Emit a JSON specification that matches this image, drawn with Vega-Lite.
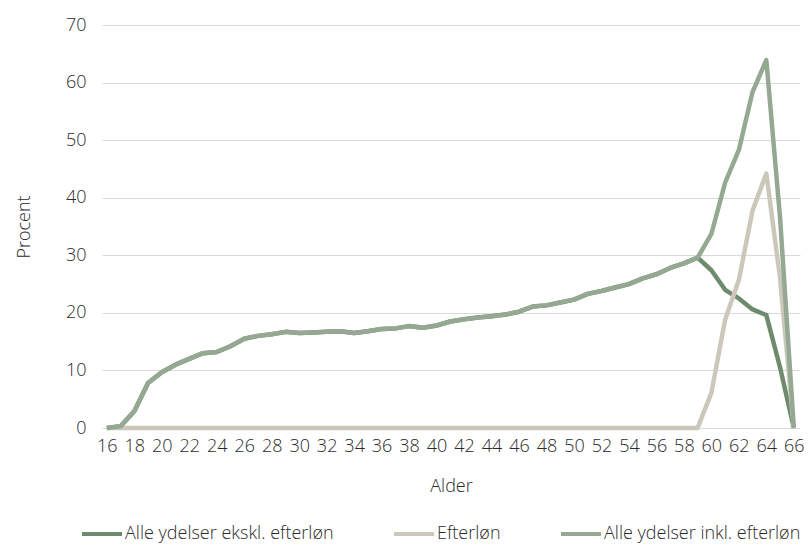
{
  "$schema": "https://vega.github.io/schema/vega-lite/v6.json",
  "autosize": {"type": "none"},
  "width": 698,
  "height": 403,
  "padding": {"left": 102, "top": 25, "right": 9, "bottom": 118},
  "background": "#ffffff",
  "config": {
    "font": "Open Sans",
    "view": {"stroke": null},
    "axis": {"labelFont": "Open Sans", "titleFont": "Open Sans", "labelColor": "#2b2b2b", "titleColor": "#2b2b2b", "labelFontSize": 18, "titleFontSize": 18, "labelFontWeight": 300, "titleFontWeight": 300},
    "legend": {"labelFont": "Open Sans", "labelFontSize": 18, "labelFontWeight": 300, "labelColor": "#2b2b2b"}
  },
  "datasets": {
    "ekskl": [
      {"Alder":16,"Procent":0},{"Alder":17,"Procent":0.3},{"Alder":18,"Procent":2.9},{"Alder":19,"Procent":7.8},{"Alder":20,"Procent":9.7},
      {"Alder":21,"Procent":11.0},{"Alder":22,"Procent":12.0},{"Alder":23,"Procent":13.0},{"Alder":24,"Procent":13.2},{"Alder":25,"Procent":14.2},
      {"Alder":26,"Procent":15.5},{"Alder":27,"Procent":16.0},{"Alder":28,"Procent":16.3},{"Alder":29,"Procent":16.7},{"Alder":30,"Procent":16.5},
      {"Alder":31,"Procent":16.6},{"Alder":32,"Procent":16.7},{"Alder":33,"Procent":16.8},{"Alder":34,"Procent":16.5},{"Alder":35,"Procent":16.8},
      {"Alder":36,"Procent":17.2},{"Alder":37,"Procent":17.3},{"Alder":38,"Procent":17.7},{"Alder":39,"Procent":17.4},{"Alder":40,"Procent":17.8},
      {"Alder":41,"Procent":18.5},{"Alder":42,"Procent":18.9},{"Alder":43,"Procent":19.2},{"Alder":44,"Procent":19.4},{"Alder":45,"Procent":19.7},
      {"Alder":46,"Procent":20.2},{"Alder":47,"Procent":21.1},{"Alder":48,"Procent":21.3},{"Alder":49,"Procent":21.8},{"Alder":50,"Procent":22.3},
      {"Alder":51,"Procent":23.3},{"Alder":52,"Procent":23.8},{"Alder":53,"Procent":24.4},{"Alder":54,"Procent":25.0},{"Alder":55,"Procent":26.0},
      {"Alder":56,"Procent":26.7},{"Alder":57,"Procent":27.8},{"Alder":58,"Procent":28.6},{"Alder":59,"Procent":29.6},{"Alder":60,"Procent":27.4},
      {"Alder":61,"Procent":24.0},{"Alder":62,"Procent":22.5},{"Alder":63,"Procent":20.6},{"Alder":64,"Procent":19.6},{"Alder":65,"Procent":10.5},
      {"Alder":66,"Procent":0}
    ],
    "efterlon": [
      {"Alder":16,"Procent":0},{"Alder":17,"Procent":0},{"Alder":18,"Procent":0},{"Alder":19,"Procent":0},{"Alder":20,"Procent":0},
      {"Alder":21,"Procent":0},{"Alder":22,"Procent":0},{"Alder":23,"Procent":0},{"Alder":24,"Procent":0},{"Alder":25,"Procent":0},
      {"Alder":26,"Procent":0},{"Alder":27,"Procent":0},{"Alder":28,"Procent":0},{"Alder":29,"Procent":0},{"Alder":30,"Procent":0},
      {"Alder":31,"Procent":0},{"Alder":32,"Procent":0},{"Alder":33,"Procent":0},{"Alder":34,"Procent":0},{"Alder":35,"Procent":0},
      {"Alder":36,"Procent":0},{"Alder":37,"Procent":0},{"Alder":38,"Procent":0},{"Alder":39,"Procent":0},{"Alder":40,"Procent":0},
      {"Alder":41,"Procent":0},{"Alder":42,"Procent":0},{"Alder":43,"Procent":0},{"Alder":44,"Procent":0},{"Alder":45,"Procent":0},
      {"Alder":46,"Procent":0},{"Alder":47,"Procent":0},{"Alder":48,"Procent":0},{"Alder":49,"Procent":0},{"Alder":50,"Procent":0},
      {"Alder":51,"Procent":0},{"Alder":52,"Procent":0},{"Alder":53,"Procent":0},{"Alder":54,"Procent":0},{"Alder":55,"Procent":0},
      {"Alder":56,"Procent":0},{"Alder":57,"Procent":0},{"Alder":58,"Procent":0},{"Alder":59,"Procent":0},{"Alder":60,"Procent":6.1},
      {"Alder":61,"Procent":18.8},{"Alder":62,"Procent":25.7},{"Alder":63,"Procent":37.8},{"Alder":64,"Procent":44.2},{"Alder":65,"Procent":26.0},
      {"Alder":66,"Procent":0}
    ],
    "inkl": [
      {"Alder":16,"Procent":0},{"Alder":17,"Procent":0.3},{"Alder":18,"Procent":2.9},{"Alder":19,"Procent":7.8},{"Alder":20,"Procent":9.7},
      {"Alder":21,"Procent":11.0},{"Alder":22,"Procent":12.0},{"Alder":23,"Procent":13.0},{"Alder":24,"Procent":13.2},{"Alder":25,"Procent":14.2},
      {"Alder":26,"Procent":15.5},{"Alder":27,"Procent":16.0},{"Alder":28,"Procent":16.3},{"Alder":29,"Procent":16.7},{"Alder":30,"Procent":16.5},
      {"Alder":31,"Procent":16.6},{"Alder":32,"Procent":16.7},{"Alder":33,"Procent":16.8},{"Alder":34,"Procent":16.5},{"Alder":35,"Procent":16.8},
      {"Alder":36,"Procent":17.2},{"Alder":37,"Procent":17.3},{"Alder":38,"Procent":17.7},{"Alder":39,"Procent":17.4},{"Alder":40,"Procent":17.8},
      {"Alder":41,"Procent":18.5},{"Alder":42,"Procent":18.9},{"Alder":43,"Procent":19.2},{"Alder":44,"Procent":19.4},{"Alder":45,"Procent":19.7},
      {"Alder":46,"Procent":20.2},{"Alder":47,"Procent":21.1},{"Alder":48,"Procent":21.3},{"Alder":49,"Procent":21.8},{"Alder":50,"Procent":22.3},
      {"Alder":51,"Procent":23.3},{"Alder":52,"Procent":23.8},{"Alder":53,"Procent":24.4},{"Alder":54,"Procent":25.0},{"Alder":55,"Procent":26.0},
      {"Alder":56,"Procent":26.7},{"Alder":57,"Procent":27.8},{"Alder":58,"Procent":28.6},{"Alder":59,"Procent":29.6},{"Alder":60,"Procent":33.7},
      {"Alder":61,"Procent":42.6},{"Alder":62,"Procent":48.3},{"Alder":63,"Procent":58.4},{"Alder":64,"Procent":63.9},{"Alder":65,"Procent":36.5},
      {"Alder":66,"Procent":0}
    ]
  },
  "encoding": {
    "x": {
      "field": "Alder", "type": "quantitative", "title": "Alder",
      "scale": {"domain": [15.65, 66.45], "nice": false, "zero": false},
      "axis": {"values": [16,18,20,22,24,26,28,30,32,34,36,38,40,42,44,46,48,50,52,54,56,58,60,62,64,66], "grid": false, "domain": false, "ticks": false, "labelPadding": 9, "titlePadding": 22, "labelFlush": false}
    },
    "y": {
      "field": "Procent", "type": "quantitative", "title": "Procent",
      "scale": {"domain": [0, 70], "nice": false},
      "axis": {"values": [0,10,20,30,40,50,60,70], "grid": true, "gridColor": "#d9d9d9", "gridWidth": 1, "domain": false, "ticks": false, "labelPadding": 16, "titlePadding": 32}
    },
    "color": {
      "type": "nominal",
      "scale": {
        "domain": ["Alle ydelser ekskl. efterløn", "Efterløn", "Alle ydelser inkl. efterløn"],
        "range": ["#6f8b6e", "#cbc7bb", "#95a892"]
      },
      "legend": {
        "title": null, "orient": "none", "direction": "horizontal",
        "legendX": -22, "legendY": 487, "labelLimit": 0,
        "symbolType": "stroke", "symbolSize": 1600, "symbolStrokeWidth": 4,
        "labelOffset": 1, "columnPadding": 52
      }
    }
  },
  "layer": [
    {"data": {"name": "ekskl"}, "mark": {"type": "line", "strokeWidth": 4.5, "strokeJoin": "round", "strokeCap": "butt"}, "encoding": {"color": {"datum": "Alle ydelser ekskl. efterløn"}}},
    {"data": {"name": "efterlon"}, "mark": {"type": "line", "strokeWidth": 4.5, "strokeJoin": "round", "strokeCap": "butt"}, "encoding": {"color": {"datum": "Efterløn"}}},
    {"data": {"name": "inkl"}, "mark": {"type": "line", "strokeWidth": 4.5, "strokeJoin": "round", "strokeCap": "butt"}, "encoding": {"color": {"datum": "Alle ydelser inkl. efterløn"}}}
  ]
}
